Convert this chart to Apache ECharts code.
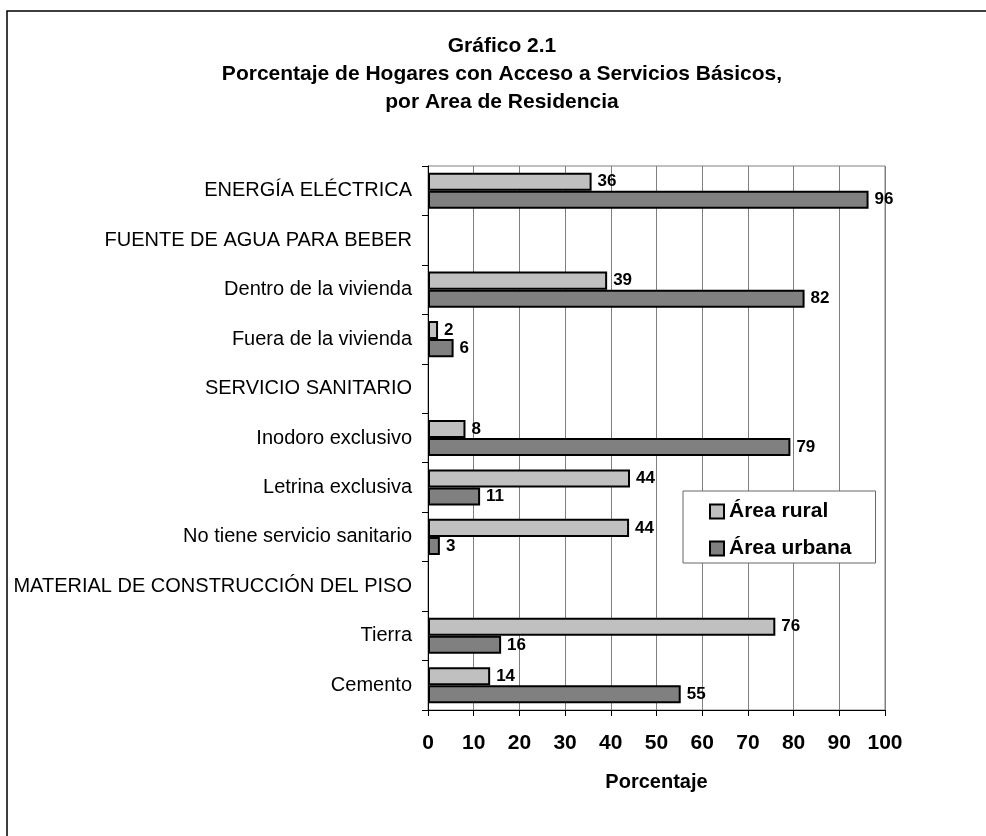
<!DOCTYPE html>
<html>
<head>
<meta charset="utf-8">
<script src="https://cdn.jsdelivr.net/npm/echarts@6/dist/echarts.min.js"></script>
<style>
html,body{margin:0;padding:0;background:#fff;}
#chart{width:986px;height:836px;}
</style>
</head>
<body>
<div id="chart"></div>
<script>
const categories = [
  'ENERGÍA ELÉCTRICA',
  'FUENTE DE AGUA PARA BEBER',
  'Dentro de la vivienda',
  'Fuera de la vivienda',
  'SERVICIO SANITARIO',
  'Inodoro exclusivo',
  'Letrina exclusiva',
  'No tiene servicio sanitario',
  'MATERIAL DE CONSTRUCCIÓN DEL PISO',
  'Tierra',
  'Cemento'
];
const rural = [35.8, null, 39.2, 2.2, null, 8.2, 44.2, 44.0, null, 76.0, 13.6];
const urban = [96.4, null, 82.4, 5.6, null, 79.3, 11.4, 2.6, null, 16.0, 55.3];
const seriesNames = ['Área rural', 'Área urbana'];
const xTicks = {min: 0, max: 100, interval: 10};
const titleLines = [
  'Gráfico 2.1',
  'Porcentaje de Hogares con Acceso a Servicios Básicos,',
  'por Area de Residencia'
];
const axisName = 'Porcentaje';

const FONT = '"Liberation Sans", Arial, Helvetica, sans-serif';
const chart = echarts.init(document.getElementById('chart'), null, {renderer: 'canvas'});

const labelOpt = {
  show: true,
  position: 'right',
  distance: 6,
  color: '#000',
  fontFamily: FONT,
  fontWeight: 'bold',
  fontSize: 17,
  formatter: p => (p.value == null ? '' : Math.round(p.value))
};

chart.setOption({
  animation: false,
  backgroundColor: '#fff',
  graphic: [
    {
      type: 'rect',
      z: -10,
      shape: {x: 7, y: 11, width: 1100, height: 1000},
      style: {fill: 'none', stroke: '#000', lineWidth: 1.5}
    },
    {
      type: 'text',
      x: 502,
      y: 32,
      style: {
        text: titleLines.join('\n'),
        font: 'bold 21px ' + FONT,
        fill: '#000',
        textAlign: 'center',
        textVerticalAlign: 'top',
        lineHeight: 28
      }
    }
  ],
  grid: {
    left: 428, right: 101, top: 166, bottom: 126,
    show: true, borderColor: '#808080', borderWidth: 1,
    containLabel: false
  },
  legend: {
    orient: 'vertical',
    left: 683, top: 491,
    padding: [10, 24, 4, 26],
    itemGap: 16,
    itemWidth: 14, itemHeight: 14,
    backgroundColor: '#fff',
    borderColor: '#666', borderWidth: 1,
    borderRadius: 0,
    icon: 'rect',
    textStyle: {fontFamily: FONT, fontWeight: 'bold', fontSize: 21, color: '#000'},
    data: seriesNames
  },
  xAxis: {
    type: 'value',
    min: xTicks.min, max: xTicks.max, interval: xTicks.interval,
    name: axisName,
    nameLocation: 'middle',
    nameGap: 62,
    nameTextStyle: {fontFamily: FONT, fontWeight: 'bold', fontSize: 20, color: '#000'},
    axisLine: {show: true, lineStyle: {color: '#000', width: 1}},
    axisTick: {show: true, length: 6, lineStyle: {color: '#000'}},
    axisLabel: {fontFamily: FONT, fontWeight: 'bold', fontSize: 21, color: '#000', margin: 23},
    splitLine: {show: true, lineStyle: {color: '#808080', width: 1}}
  },
  yAxis: {
    type: 'category',
    inverse: true,
    data: categories,
    axisLine: {show: true, lineStyle: {color: '#000', width: 1}},
    axisTick: {show: true, length: 6, lineStyle: {color: '#000'}},
    axisLabel: {fontFamily: FONT, fontSize: 20, color: '#000', margin: 16},
    splitLine: {show: false}
  },
  series: [
    {
      name: seriesNames[0],
      type: 'bar',
      data: rural,
      barGap: '0%',
      barCategoryGap: '27%',
      itemStyle: {color: '#C0C0C0', borderColor: '#000', borderWidth: 2},
      label: labelOpt
    },
    {
      name: seriesNames[1],
      type: 'bar',
      data: urban,
      barGap: '0%',
      barCategoryGap: '27%',
      itemStyle: {color: '#808080', borderColor: '#000', borderWidth: 2},
      label: labelOpt
    }
  ]
});
</script>
</body>
</html>
